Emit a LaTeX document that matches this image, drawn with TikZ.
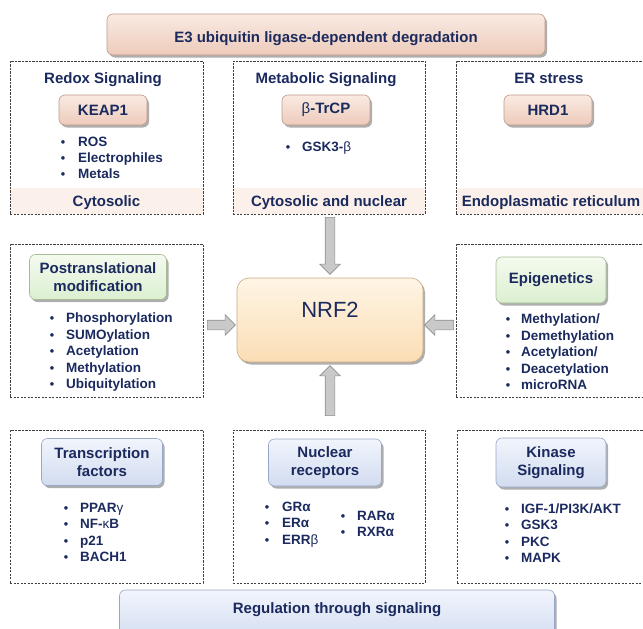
\documentclass[tikz,border=0pt]{standalone}
\usepackage{fontspec}
\setmainfont{Liberation Sans}
\usetikzlibrary{shadows,shapes.arrows,calc}
\definecolor{navy}{HTML}{1B2A5E}
\definecolor{peachT}{HTML}{F9EAE2}
\definecolor{peachB}{HTML}{EDCBBB}
\definecolor{peachD}{HTML}{BF9A8A}
\definecolor{greenT}{HTML}{F4FAEF}
\definecolor{greenB}{HTML}{DCEFD0}
\definecolor{greenD}{HTML}{A6BC96}
\definecolor{blueT}{HTML}{F1F5FC}
\definecolor{blueB}{HTML}{D2DCF0}
\definecolor{blueD}{HTML}{98A7C8}
\definecolor{nrfT}{HTML}{FEF5E5}
\definecolor{nrfB}{HTML}{FBDDB4}
\definecolor{nrfD}{HTML}{C9AA82}
\definecolor{bandC}{HTML}{FBF1EA}
\definecolor{arrowF}{HTML}{C9C9C9}
\definecolor{arrowD}{HTML}{8E8E8E}
\definecolor{dashC}{HTML}{3F3F3F}
\tikzset{
  shade3d/.style={drop shadow={shadow xshift=2pt, shadow yshift=-2.5pt, opacity=0.45, fill=black!70}},
  btn/.style={rounded corners=6pt, line width=0.6pt, inner sep=0pt, align=center, text=navy,
    font=\bfseries\fontsize{15}{18}\selectfont, shade3d},
  peachbtn/.style={btn, top color=peachT, bottom color=peachB, draw=peachD},
  greenbtn/.style={btn, top color=greenT, bottom color=greenB, draw=greenD},
  bluebtn/.style={btn, top color=blueT, bottom color=blueB, draw=blueD},
  nrfbox/.style={rounded corners=12pt, line width=0.6pt, inner sep=0pt, top color=nrfT, bottom color=nrfB, draw=nrfD, shade3d},
  dbox/.style={draw=dashC, dash pattern=on 2.4pt off 1.1pt, line width=1pt, inner sep=0pt},
  ttl/.style={text=navy, font=\bfseries\fontsize{15}{18}\selectfont, inner sep=0pt, anchor=base},
  btxt/.style={text=navy, font=\bfseries\fontsize{13.5}{16}\selectfont, inner sep=0pt, anchor=base west},
  bdot/.style={text=navy, font=\bfseries\fontsize{12.5}{14}\selectfont, inner sep=0pt, anchor=base},
  garrow/.style={single arrow, draw=arrowD, fill=arrowF, line width=0.6pt, inner xsep=0pt, inner ysep=4.5pt,
    single arrow head extend=5.5pt, single arrow head indent=0pt, single arrow tip angle=90}
}
\begin{document}
\begin{tikzpicture}[x=1pt,y=-1pt]
\useasboundingbox (0,0) rectangle (643,629);
\clip (0,0) rectangle (643,629);

% ---------- top bar ----------
\node[peachbtn, minimum width=438pt, minimum height=41pt] (e3) at (326,34.5) {};
\node[ttl] (e3t) at (326,42) {E3 ubiquitin ligase-dependent degradation};

% ---------- top row boxes ----------
\fill[bandC] (10.5,188) rectangle (202.5,213.5);
\fill[bandC] (233.5,188) rectangle (424.5,213.5);
\fill[bandC] (456.5,188) rectangle (649,213.5);
\node[dbox, minimum width=193pt, minimum height=153pt] (box1) at (106.5,137.5) {};
\node[dbox, minimum width=192pt, minimum height=153pt] (box2) at (329,137.5) {};
\node[dbox, minimum width=200pt, minimum height=153pt] (box3) at (556,137.5) {};

\node[ttl] (t1) at (103,83) {Redox Signaling};
\node[ttl] (t2) at (326,83) {Metabolic Signaling};
\node[ttl] (t3) at (549,83) {ER stress};

\node[peachbtn, minimum width=88pt, minimum height=30pt] (keap) at (103,110) {KEAP1};
\node[peachbtn, minimum width=88pt, minimum height=30pt] (btrcp) at (326,110) {{\mdseries β}-TrCP};
\node[peachbtn, minimum width=88pt, minimum height=30pt] (hrd) at (548,110) {HRD1};

\foreach \t [count=\i from 0] in {ROS,Electrophiles,Metals}{
  \node[bdot] (k\i) at (63,146+16*\i) {•};
  \node[btxt] (kt\i) at (78,146+16*\i) {\t};
}
\node[bdot] (g0) at (288,151) {•};
\node[btxt] (gt0) at (302,151) {GSK3-{\mdseries β}};

\node[ttl] (c1) at (106.5,206) {Cytosolic};
\node[ttl] (c2) at (329,206) {Cytosolic and nuclear};
\node[ttl] (c3) at (551,206) {Endoplasmatic reticulum};

% ---------- NRF2 ----------
\node[nrfbox, minimum width=186pt, minimum height=84pt] (nrf) at (330,320) {};
\node[text=navy, font=\fontsize{22}{26}\selectfont, inner sep=0pt, anchor=base] (nrft) at (330,317) {NRF2};

% ---------- block arrows ----------
\node[garrow, minimum height=57pt, rotate=-90] (adown) at (330,243.5) {};
\node[garrow, minimum height=28pt] (aleft) at (219,325) {};
\node[garrow, minimum height=29pt, rotate=180] (aright) at (441.5,325) {};
\node[garrow, minimum height=50pt, rotate=90] (aup) at (330,393) {};

% ---------- middle row ----------
\node[dbox, minimum width=193pt, minimum height=153pt] (box4) at (106.5,320.5) {};
\node[dbox, minimum width=200pt, minimum height=153pt] (box5) at (556,320.5) {};

\node[greenbtn, minimum width=137pt, minimum height=45pt] (ptm) at (98,277) {Postranslational\\modification};
\node[greenbtn, minimum width=110pt, minimum height=46pt] (epi) at (551,280) {Epigenetics};

\foreach \t [count=\i from 0] in {Phosphorylation,SUMOylation,Acetylation,Methylation,Ubiquitylation}{
  \node[bdot] (p\i) at (52,322.5+16.5*\i) {•};
  \node[btxt] (pt\i) at (66,322.5+16.5*\i) {\t};
}
\foreach \t [count=\i from 0] in {Methylation/,Demethylation,Acetylation/,Deacetylation,microRNA}{
  \node[bdot] (e\i) at (508,323.5+16.5*\i) {•};
  \node[btxt] (et\i) at (521,323.5+16.5*\i) {\t};
}

% ---------- bottom row ----------
\node[dbox, minimum width=193pt, minimum height=153pt] (box6) at (106.5,506.5) {};
\node[dbox, minimum width=192pt, minimum height=153pt] (box7) at (329,506.5) {};
\node[dbox, minimum width=200pt, minimum height=153pt] (box8) at (557,506.5) {};

\node[bluebtn, minimum width=121pt, minimum height=47pt] (tf) at (102,462) {Transcription\\factors};
\node[bluebtn, minimum width=113pt, minimum height=47pt] (nr) at (325,462.5) {Nuclear\\receptors};
\node[bluebtn, minimum width=110pt, minimum height=49pt] (ks) at (551,462.5) {Kinase\\Signaling};

\foreach \t [count=\i from 0] in {PPAR{\mdseries γ},NF-{\mdseries κ}B,p21,BACH1}{
  \node[bdot] (tfd\i) at (66,512+16.5*\i) {•};
  \node[btxt] (tft\i) at (80,512+16.5*\i) {\t};
}
\foreach \t [count=\i from 0] in {GRα,ERα,ERR{\mdseries β}}{
  \node[bdot] (nra\i) at (267,511+16.5*\i) {•};
  \node[btxt] (nrat\i) at (282,511+16.5*\i) {\t};
}
\foreach \t [count=\i from 0] in {RARα,RXRα}{
  \node[bdot] (nrb\i) at (343,520+16.5*\i) {•};
  \node[btxt] (nrbt\i) at (357,520+16.5*\i) {\t};
}
\foreach \t [count=\i from 0] in {IGF-1/PI3K/AKT,GSK3,PKC,MAPK}{
  \node[bdot] (ksd\i) at (507,513+16.5*\i) {•};
  \node[btxt] (kst\i) at (521,513+16.5*\i) {\t};
}

% ---------- bottom bar ----------
\node[bluebtn, minimum width=435pt, minimum height=50pt] (reg) at (337,615) {};
\node[ttl] (regt) at (337,613) {Regulation through signaling};
\end{tikzpicture}
\end{document}
